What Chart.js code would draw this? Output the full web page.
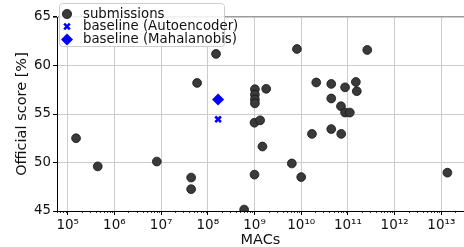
<!DOCTYPE html>
<html>
<head>
<meta charset="utf-8">
<script src="https://cdn.jsdelivr.net/npm/chart.js"></script>
<style>
  body { margin: 0; background: #fff; }
  #wrap { width: 464px; height: 247px; }
</style>
</head>
<body>
<div id="wrap"><canvas id="myChart" width="464" height="247"></canvas></div>
<script>
// submissions: MACs vs official score
var subMacs = [1.51e5, 4.4e5, 8.1e6, 4.4e7, 4.4e7, 5.9e7, 1.5e8, 6.0e8,
  1.02e9, 1.02e9, 1.02e9, 1.02e9, 1.78e9, 1.0e9, 1.32e9, 1.48e9, 1.0e9,
  6.3e9, 8.1e9, 1.0e10, 1.7e10, 2.1e10, 4.4e10, 4.4e10, 4.4e10, 7.1e10,
  7.2e10, 8.7e10, 8.7e10, 1.1e11, 1.48e11, 1.55e11, 2.6e11, 1.35e13];
var subScore = [52.5, 49.6, 50.1, 48.45, 47.25, 58.2, 61.2, 45.15,
  57.55, 57.0, 56.5, 56.1, 57.6, 54.1, 54.35, 51.65, 48.75,
  49.9, 61.7, 48.5, 52.95, 58.25, 58.1, 56.6, 53.45, 55.8,
  52.95, 57.75, 55.15, 55.15, 58.3, 57.35, 61.6, 48.95];

var aeMacs = [1.66e8];
var aeScore = [54.45];
var mahaMacs = [1.66e8];
var mahaScore = [56.5];

var xDecades = [5, 6, 7, 8, 9, 10, 11, 12, 13];
var yTicks = [45, 50, 55, 60, 65];

var sup = {'0':'⁰','1':'¹','2':'²','3':'³','4':'⁴','5':'⁵','6':'⁶','7':'⁷','8':'⁸','9':'⁹'};
function powLabel(e) {
  return '10' + String(e).split('').map(c => sup[c]).join('');
}
function toPts(xs, ys) {
  return xs.map((x, i) => ({x: x, y: ys[i]}));
}

Chart.defaults.font.family = 'DejaVu Sans';
Chart.defaults.color = '#111';

var labelsLeg = ['submissions', 'baseline (Autoencoder)', 'baseline (Mahalanobis)'];

// small minor ticks on the log axis
var minorTicks = {
  id: 'minorTicks',
  afterDraw: function(chart) {
    var sc = chart.scales.x, ctx = chart.ctx;
    ctx.save();
    ctx.strokeStyle = '#000';
    ctx.lineWidth = 0.8;
    for (var d = 4; d <= 13; d++) {
      for (var k = 2; k <= 9; k++) {
        var v = k * Math.pow(10, d);
        if (v < sc.min || v > sc.max) continue;
        var px = Math.round(sc.getPixelForValue(v)) + 0.5;
        ctx.beginPath();
        ctx.moveTo(px, sc.top);
        ctx.lineTo(px, sc.top + 2);
        ctx.stroke();
      }
    }
    ctx.restore();
  }
};

// legend box like matplotlib's, top left
var boxLegend = {
  id: 'boxLegend',
  afterDraw: function(chart) {
    var ctx = chart.ctx;
    ctx.save();
    ctx.fillStyle = 'rgba(255,255,255,0.85)';
    ctx.strokeStyle = '#cccccc';
    ctx.lineWidth = 1;
    ctx.beginPath();
    ctx.roundRect(59.5, 3.5, 165, 43, 3);
    ctx.fill();
    ctx.stroke();
    var ys = [14, 26.5, 39.5];
    chart.data.datasets.forEach(function(ds, i) {
      ctx.fillStyle = ds.backgroundColor;
      ctx.strokeStyle = ds.borderColor;
      ctx.lineWidth = ds.borderWidth;
      Chart.helpers.drawPoint(ctx, {pointStyle: ds.pointStyle, radius: ds.legendRadius, rotation: 0, borderWidth: ds.borderWidth}, 67, ys[i]);
      ctx.fillStyle = '#111';
      ctx.font = '13.3px "DejaVu Sans"';
      ctx.textBaseline = 'middle';
      ctx.fillText(labelsLeg[i], 83, ys[i] + 0.5);
    });
    ctx.restore();
  }
};

var myChart = document.getElementById('myChart').getContext('2d');
var chart = new Chart(myChart, {
  type: 'scatter',
  data: {
    datasets: [{
      label: labelsLeg[0],
      data: toPts(subMacs, subScore),
      pointStyle: 'circle',
      pointRadius: 4.4,
      legendRadius: 4.6,
      backgroundColor: '#3a3a3a',
      borderColor: '#141414',
      borderWidth: 0.8
    }, {
      label: labelsLeg[1],
      data: toPts(aeMacs, aeScore),
      pointStyle: 'crossRot',
      pointRadius: 4,
      legendRadius: 4,
      backgroundColor: '#0000ff',
      borderColor: '#0000ff',
      borderWidth: 2.6
    }, {
      label: labelsLeg[2],
      data: toPts(mahaMacs, mahaScore),
      pointStyle: 'rectRot',
      pointRadius: 6,
      legendRadius: 6,
      backgroundColor: '#0000ff',
      borderColor: '#0000ff',
      borderWidth: 0
    }]
  },
  options: {
    responsive: false,
    animation: false,
    events: [],
    layout: { autoPadding: false, padding: { top: 17, right: 0, left: 0, bottom: 0 } },
    plugins: {
      legend: { display: false },
      tooltip: { enabled: false }
    },
    scales: {
      x: {
        type: 'logarithmic',
        bounds: 'data',
        min: Math.pow(10, 4.771),
        max: Math.pow(10, 13.486),
        afterFit: function(s) {
          s.height = 36;
          s.paddingLeft = 0;
          s.paddingRight = 0;
        },
        afterBuildTicks: function(s) {
          s.ticks = xDecades.map(e => ({value: Math.pow(10, e)}));
        },
        ticks: {
          autoSkip: false,
          maxRotation: 0,
          padding: 2,
          font: { size: 13.5 },
          callback: function(v) { return powLabel(Math.round(Math.log10(v))); }
        },
        grid: { color: '#cccccc', lineWidth: 1, tickColor: '#000', tickLength: 4 },
        border: { display: true, color: '#000', width: 1 },
        title: {
          display: true, text: 'MACs',
          font: { size: 14.5, lineHeight: 1 },
          padding: { top: 0, bottom: 0 }
        }
      },
      y: {
        min: 45,
        max: 65,
        afterFit: function(s) { s.width = 57; },
        afterBuildTicks: function(s) {
          s.ticks = yTicks.map(v => ({value: v}));
        },
        ticks: { padding: 2, font: { size: 13.3 } },
        grid: {
          color: c => (c.tick && c.tick.value === 65) ? '#9a9a9a' : '#cccccc',
          lineWidth: c => (c.tick && c.tick.value === 65) ? 1.6 : 1,
          tickColor: '#000',
          tickLength: 4
        },
        border: { display: true, color: '#000', width: 1 },
        title: {
          display: true, text: 'Official score [%]',
          font: { size: 14.5, lineHeight: 1 },
          padding: { top: 15, bottom: 0 }
        }
      }
    }
  },
  plugins: [minorTicks, boxLegend]
});
</script>
</body>
</html>
